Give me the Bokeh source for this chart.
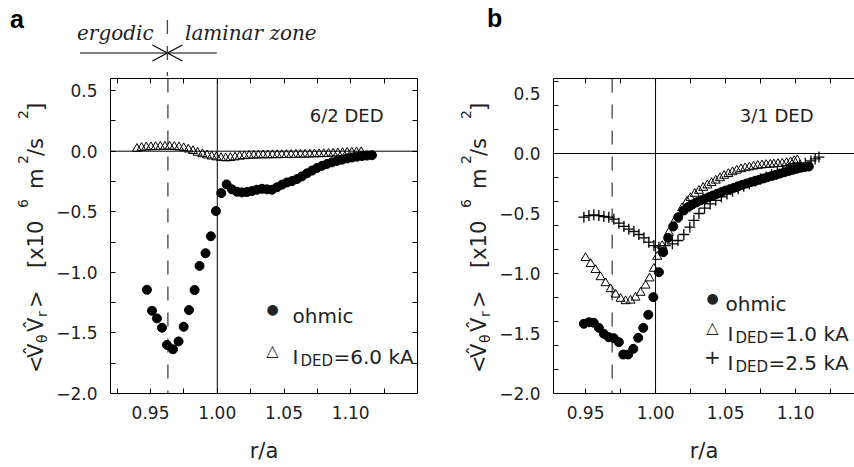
import math
from bokeh.plotting import figure
from bokeh.models import Span, Label, FixedTicker, LinearAxis, Range1d, CustomJSTickFormatter, Div
from bokeh.layouts import row, column
from bokeh.embed import file_html
from bokeh.resources import INLINE

# ---------------- data ----------------
# panel a : 6/2 DED
A_OHMIC_R = [0.9473, 0.9511, 0.9548, 0.9586, 0.9623, 0.9668, 0.9710, 0.9748, 0.9788, 0.9830,
             0.9867, 0.9912, 0.9952, 0.9990, 1.0030, 1.0070, 1.0110, 1.0148, 1.0185, 1.0222,
             1.0260, 1.0297, 1.0335, 1.0372, 1.0410, 1.0447, 1.0485, 1.0522, 1.0560, 1.0597,
             1.0634, 1.0672, 1.0710, 1.0747, 1.0784, 1.0822, 1.0859, 1.0897, 1.0934, 1.0972,
             1.1009, 1.1046, 1.1084, 1.1121, 1.1159]
A_OHMIC_V = [-1.144, -1.317, -1.380, -1.457, -1.599, -1.635, -1.570, -1.449, -1.311, -1.146,
             -0.947, -0.842, -0.702, -0.494, -0.346, -0.274, -0.315, -0.335, -0.340, -0.337,
             -0.329, -0.318, -0.310, -0.315, -0.318, -0.298, -0.276, -0.258, -0.247, -0.230,
             -0.208, -0.183, -0.160, -0.138, -0.121, -0.105, -0.092, -0.080, -0.070, -0.060,
             -0.052, -0.045, -0.040, -0.036, -0.033]
A_DED60_R = [0.9398, 0.9433, 0.9468, 0.9503, 0.9538, 0.9573, 0.9608, 0.9643, 0.9678, 0.9713,
             0.9748, 0.9783, 0.9818, 0.9853, 0.9888, 0.9923, 0.9958, 0.9993, 1.0028, 1.0063,
             1.0098, 1.0133, 1.0168, 1.0203, 1.0238, 1.0273, 1.0308, 1.0343, 1.0378, 1.0413,
             1.0448, 1.0483, 1.0518, 1.0553, 1.0588, 1.0623, 1.0658, 1.0693, 1.0728, 1.0763,
             1.0798, 1.0833, 1.0868, 1.0903, 1.0938, 1.0973, 1.1008, 1.1043, 1.1078]
A_DED60_V = [0.020, 0.028, 0.032, 0.034, 0.035, 0.037, 0.038, 0.038, 0.036, 0.032,
             0.026, 0.015, 0.002, -0.012, -0.024, -0.034, -0.043, -0.050, -0.055, -0.058,
             -0.056, -0.050, -0.044, -0.040, -0.037, -0.035, -0.034, -0.033, -0.033, -0.032,
             -0.032, -0.031, -0.030, -0.030, -0.029, -0.028, -0.027, -0.026, -0.025, -0.024,
             -0.023, -0.021, -0.019, -0.017, -0.015, -0.013, -0.011, -0.009, -0.007]

# panel b : 3/1 DED
B_OHMIC_R = [0.9488, 0.9524, 0.9559, 0.9595, 0.9631, 0.9666, 0.9702, 0.9738, 0.9769, 0.9805,
             0.9841, 0.9876, 0.9912, 0.9948, 0.9984, 1.0024, 1.0055, 1.0090, 1.0126, 1.0162,
             1.0202, 1.0235, 1.0262, 1.0290, 1.0320, 1.0350, 1.0380, 1.0410, 1.0440, 1.0470,
             1.0500, 1.0530, 1.0560, 1.0590, 1.0620, 1.0650, 1.0680, 1.0710, 1.0740, 1.0770,
             1.0800, 1.0830, 1.0860, 1.0890, 1.0920, 1.0950, 1.0980, 1.1008, 1.1036, 1.1065,
             1.1095]
B_OHMIC_V = [-1.419, -1.406, -1.411, -1.453, -1.503, -1.531, -1.539, -1.572, -1.675, -1.675,
             -1.628, -1.536, -1.453, -1.344, -1.197, -0.989, -0.822, -0.703, -0.608, -0.531,
             -0.475, -0.445, -0.425, -0.408, -0.392, -0.378, -0.364, -0.350, -0.336, -0.322,
             -0.308, -0.297, -0.286, -0.273, -0.261, -0.250, -0.239, -0.229, -0.219, -0.208,
             -0.197, -0.187, -0.178, -0.167, -0.156, -0.146, -0.136, -0.127, -0.119, -0.113,
             -0.108]
B_DED10_R = [0.9500, 0.9536, 0.9571, 0.9607, 0.9643, 0.9679, 0.9714, 0.9750, 0.9786, 0.9821,
             0.9857, 0.9893, 0.9929, 0.9957, 0.9988, 1.0012, 1.0048, 1.0095, 1.0143, 1.0190,
             1.0225, 1.0250, 1.0280, 1.0310, 1.0340, 1.0370, 1.0400, 1.0430, 1.0460, 1.0490,
             1.0520, 1.0550, 1.0580, 1.0610, 1.0640, 1.0670, 1.0700, 1.0730, 1.0760, 1.0790,
             1.0820, 1.0845, 1.0875, 1.0905, 1.0935, 1.0964, 1.0990, 1.1012]
B_DED10_V = [-0.870, -0.920, -0.970, -1.030, -1.080, -1.130, -1.175, -1.210, -1.230, -1.225,
             -1.200, -1.160, -1.100, -1.040, -0.960, -0.860, -0.770, -0.660, -0.550, -0.455,
             -0.400, -0.370, -0.335, -0.310, -0.285, -0.265, -0.245, -0.225, -0.205, -0.185,
             -0.170, -0.155, -0.142, -0.130, -0.122, -0.115, -0.108, -0.102, -0.098, -0.095,
             -0.092, -0.090, -0.087, -0.084, -0.079, -0.072, -0.062, -0.055]
B_DED25_R = [0.9488, 0.9524, 0.9559, 0.9595, 0.9631, 0.9666, 0.9702, 0.9738, 0.9774, 0.9809,
             0.9845, 0.9881, 0.9917, 0.9952, 0.9988, 1.0024, 1.0070, 1.0120, 1.0160, 1.0202,
             1.0245, 1.0274, 1.0310, 1.0350, 1.0390, 1.0430, 1.0470, 1.0510, 1.0550, 1.0590,
             1.0630, 1.0670, 1.0710, 1.0750, 1.0790, 1.0830, 1.0870, 1.0910, 1.0950, 1.0990,
             1.1030, 1.1070, 1.1110, 1.1140, 1.1167]
B_DED25_V = [-0.531, -0.517, -0.511, -0.517, -0.525, -0.531, -0.547, -0.581, -0.608, -0.631,
             -0.650, -0.675, -0.703, -0.739, -0.767, -0.781, -0.767, -0.753, -0.725, -0.675,
             -0.614, -0.558, -0.500, -0.455, -0.420, -0.390, -0.362, -0.338, -0.315, -0.293,
             -0.272, -0.252, -0.232, -0.213, -0.195, -0.177, -0.160, -0.143, -0.127, -0.112,
             -0.098, -0.082, -0.062, -0.045, -0.030]

X_TICKS = [0.95, 1.00, 1.05, 1.10]
X_TICK_LABELS = ["0.95", "1.00", "1.05", "1.10"]
Y_TICKS = [-2.0, -1.5, -1.0, -0.5, 0.0, 0.5]
Y_TICK_LABELS = ["\u22122.0", "\u22121.5", "\u22121.0", "\u22120.5", "0.0", "0.5"]
A_X_MINOR = [0.925, 0.95, 0.975, 1.0, 1.025, 1.05, 1.075, 1.1, 1.125]
A_Y_MINOR = [-1.75, -1.5, -1.25, -1.0, -0.75, -0.5, -0.25, 0.0, 0.25, 0.5]
B_X_MINOR = [0.95, 0.975, 1.0, 1.025, 1.05, 1.075, 1.1, 1.125]
B_Y_MINOR = [-1.8, -1.6, -1.4, -1.2, -1.0, -0.8, -0.6, -0.4, -0.2, 0.0, 0.2, 0.4, 0.6]

A_XRANGE = (0.92, 1.15)
A_YRANGE = (-2.0, 0.6)
B_XRANGE = (0.9271, 1.1421)
B_YRANGE = (-2.0, 0.625)
A_ERGODIC_EDGE = 0.963
B_ERGODIC_EDGE = 0.969
LAMINAR_EDGE = 1.0

# ---------------- layout / styling ----------------
FONT = "DejaVu Sans"
INK = "#222222"
TOP_H = 76                     # height of the strip above the panels
PANEL_H = 391
COL_A_W = 452                  # page width of column a
COL_B_W = 854 - COL_A_W
YLAB_A_W = 50
YLAB_B_W = 494 - COL_A_W
FRAME_TOP, FRAME_BOTTOM = 78, 393
A_FRAME_L, A_FRAME_R = 110, 417
B_FRAME_L, B_FRAME_R = 553, 854


def fmt(tick_values, tick_labels):
    return CustomJSTickFormatter(args=dict(tv=tick_values, tl=tick_labels), code="""
        for (let i = 0; i < tv.length; i++) {
            if (Math.abs(tv[i] - tick) < 1e-9) return tl[i];
        }
        return "";
    """)


def style_axis(ax):
    ax.axis_line_color = "black"
    ax.axis_line_width = 1
    ax.major_tick_in = 0
    ax.major_tick_out = 0
    ax.minor_tick_in = 5
    ax.minor_tick_out = 0
    ax.minor_tick_line_color = "black"
    ax.minor_tick_line_width = 1
    ax.major_label_text_font = FONT
    ax.major_label_text_color = INK
    ax.major_label_text_font_size = "17px"


def make_panel(fig_left, width, frame_l, frame_r, xr, yr, xminor, yminor, right_axis):
    p = figure(width=width, height=PANEL_H, x_range=Range1d(*xr), y_range=Range1d(*yr),
               output_backend="svg", toolbar_location=None,
               x_axis_location=None, y_axis_location=None,
               min_border_left=frame_l - fig_left, min_border_right=fig_left + width - frame_r,
               min_border_top=FRAME_TOP - TOP_H, min_border_bottom=TOP_H + PANEL_H - FRAME_BOTTOM)
    p.outline_line_color = None
    p.xgrid.visible = False
    p.ygrid.visible = False
    p.background_fill_color = "white"
    p.border_fill_color = "white"

    bx = LinearAxis(ticker=FixedTicker(ticks=X_TICKS, minor_ticks=xminor),
                    formatter=fmt(X_TICKS, X_TICK_LABELS))
    style_axis(bx)
    bx.major_label_standoff = 12
    bx.axis_label = "r/a"
    bx.axis_label_text_font = FONT
    bx.axis_label_text_font_size = "21px"
    bx.axis_label_text_font_style = "normal"
    bx.axis_label_text_color = INK
    bx.axis_label_standoff = 17
    p.add_layout(bx, "below")

    ly = LinearAxis(ticker=FixedTicker(ticks=Y_TICKS, minor_ticks=yminor),
                    formatter=fmt(Y_TICKS, Y_TICK_LABELS))
    style_axis(ly)
    ly.major_label_standoff = 13
    p.add_layout(ly, "left")

    tx = LinearAxis(ticker=FixedTicker(ticks=[], minor_ticks=xminor))
    style_axis(tx)
    tx.major_label_standoff = 0
    p.add_layout(tx, "above")
    if right_axis:
        ry = LinearAxis(ticker=FixedTicker(ticks=[], minor_ticks=yminor))
        style_axis(ry)
        ry.major_label_standoff = 0
        p.add_layout(ry, "right")
    return p


def lab(p, frame, px, py, text, size, align="left", baseline="alphabetic",
        font=FONT, style="normal", color=INK):
    """Label placed from page pixels, relative to the figure frame's (left, bottom)."""
    left, bottom = frame
    p.add_layout(Label(x=px - left, y=bottom - py, x_units="screen", y_units="screen",
                       text=text, text_font=font, text_font_size=f"{size}px",
                       text_font_style=style, text_align=align, text_baseline=baseline,
                       text_color=color))


# y-axis title pieces: (text, page y where the piece starts, kind)
YLABEL_PIECES = [("&lt;", 373, "main"), ("V\u0302", 358, "main"), ("\u03b8", 343, "sub"),
                 ("V\u0302", 332, "main"), ("r", 317, "sub"), ("&gt;", 308, "main"),
                 ("[x10", 268, "main"), ("6", 208, "sup"), ("m", 189, "main"),
                 ("2", 164, "sup"), ("/s", 156, "main"), ("2", 119, "sup"), ("]", 111, "main")]


def make_ylabel(fig_left, width, baseline_px):
    """Rotated y-axis title with real sub/superscripts, drawn as SVG text."""
    ax, ay = baseline_px - fig_left, 373 - TOP_H
    spans = []
    for text, py, kind in YLABEL_PIECES:
        size = 21 if kind == "main" else 14
        v = {"main": 0, "sub": 4, "sup": -15}[kind]
        spans.append(f'<tspan x="{373 - py}" y="{v}" font-size="{size}px">{text}</tspan>')
    svg = (f'<svg xmlns="http://www.w3.org/2000/svg" width="{width}" height="{PANEL_H}" '
           f'style="display:block"><text transform="translate({ax},{ay}) rotate(-90)" '
           f'style="font-family:\'{FONT}\',sans-serif" fill="{INK}">{"".join(spans)}</text></svg>')
    return Div(text=svg, width=width, height=PANEL_H, margin=0)


def add_refs(p, edge):
    p.add_layout(Span(location=LAMINAR_EDGE, dimension="height", line_color="black",
                      line_width=1, level="underlay"))
    p.add_layout(Span(location=0.0, dimension="width", line_color="black",
                      line_width=1, level="underlay"))
    p.add_layout(Span(location=edge, dimension="height", line_color="#444444",
                      line_width=1.3, line_dash="14 12", level="underlay"))


def add_ded_entry(p, frame, px_marker, py, marker_text, msize, label_x, value_text):
    lab(p, frame, px_marker, py - 6, marker_text, msize, align="center", baseline="middle")
    lab(p, frame, label_x, py, "I", 20)
    lab(p, frame, label_x + 8, py + 4, "DED", 15)
    lab(p, frame, label_x + 41, py, value_text, 20)


# ---------------- panel a ----------------
PA_LEFT = YLAB_A_W
pa = make_panel(PA_LEFT, COL_A_W - YLAB_A_W, A_FRAME_L, A_FRAME_R, A_XRANGE, A_YRANGE,
                A_X_MINOR, A_Y_MINOR, True)
FA = (A_FRAME_L, FRAME_BOTTOM)
add_refs(pa, A_ERGODIC_EDGE)
pa.scatter(A_DED60_R, A_DED60_V, marker="triangle", size=9, fill_color=None,
           line_color="black", line_width=1)
pa.scatter(A_OHMIC_R, A_OHMIC_V, marker="circle", size=9, fill_color="black", line_color="black")
lab(pa, FA, 383, 115, "6/2 DED", 18, align="right")
lab(pa, FA, 272, 308, "\u25cf", 14, align="center", baseline="middle")
lab(pa, FA, 292, 315, "ohmic", 20)
add_ded_entry(pa, FA, 272, 356, "\u25b3", 16, 292, "=6.0 kA")
ya = make_ylabel(0, YLAB_A_W, 43)

# strip above panel a (zone annotation)
a_px = (A_FRAME_R - A_FRAME_L) / (A_XRANGE[1] - A_XRANGE[0])


def a_page_x(r):
    return A_FRAME_L + (r - A_XRANGE[0]) * a_px


xe = a_page_x(A_ERGODIC_EDGE)
xl = a_page_x(LAMINAR_EDGE)
SERIF = "font-family:'DejaVu Serif',serif;font-style:italic;font-size:20px"
BOLD = "font-family:'Liberation Sans',Arial,sans-serif;font-weight:bold;font-size:25px"
svg_a = f"""<svg xmlns="http://www.w3.org/2000/svg" width="{COL_A_W}" height="{TOP_H}" style="display:block">
<text x="10" y="28" style="{BOLD}" fill="black">a</text>
<text x="77" y="40" style="{SERIF}" fill="{INK}">ergodic</text>
<text x="185" y="40" style="{SERIF}" fill="{INK}">laminar zone</text>
<line x1="80" y1="53" x2="{xl:.1f}" y2="53" stroke="black" stroke-width="1.2"/>
<line x1="{xe - 15:.1f}" y1="45" x2="{xe + 15:.1f}" y2="61" stroke="black" stroke-width="1.2"/>
<line x1="{xe - 15:.1f}" y1="61" x2="{xe + 15:.1f}" y2="45" stroke="black" stroke-width="1.2"/>
<line x1="{xe:.1f}" y1="20" x2="{xe:.1f}" y2="{TOP_H}" stroke="#444444" stroke-width="1.3" stroke-dasharray="14 12"/>
</svg>"""
top_a = Div(text=svg_a, width=COL_A_W, height=TOP_H, margin=0)

# ---------------- panel b ----------------
PB_LEFT = COL_A_W + YLAB_B_W
pb = make_panel(PB_LEFT, COL_B_W - YLAB_B_W, B_FRAME_L, B_FRAME_R, B_XRANGE, B_YRANGE,
                B_X_MINOR, B_Y_MINOR, False)
FB = (B_FRAME_L, FRAME_BOTTOM)
add_refs(pb, B_ERGODIC_EDGE)
pb.scatter(B_DED10_R, B_DED10_V, marker="triangle", size=9, fill_color=None,
           line_color="black", line_width=1)
pb.scatter(B_OHMIC_R, B_OHMIC_V, marker="circle", size=9, fill_color="black", line_color="black")
pb.scatter(B_DED25_R, B_DED25_V, marker="cross", size=11, line_color="black", line_width=1.3)
lab(pb, FB, 813, 115, "3/1 DED", 18, align="right")
lab(pb, FB, 712, 297, "\u25cf", 14, align="center", baseline="middle")
lab(pb, FB, 725, 303, "ohmic", 20)
add_ded_entry(pb, FB, 712, 333, "\u25b3", 16, 727, "=1.0 kA")
add_ded_entry(pb, FB, 712, 362, "+", 20, 727, "=2.5 kA")
yb = make_ylabel(COL_A_W, YLAB_B_W, 486)

svg_b = f"""<svg xmlns="http://www.w3.org/2000/svg" width="{COL_B_W}" height="{TOP_H}" style="display:block">
<text x="{487 - COL_A_W}" y="27" style="{BOLD}" fill="black">b</text>
</svg>"""
top_b = Div(text=svg_b, width=COL_B_W, height=TOP_H, margin=0)

layout = row(column(top_a, row(ya, pa)), column(top_b, row(yb, pb)))
open("out.html", "w").write(file_html(layout, INLINE))
